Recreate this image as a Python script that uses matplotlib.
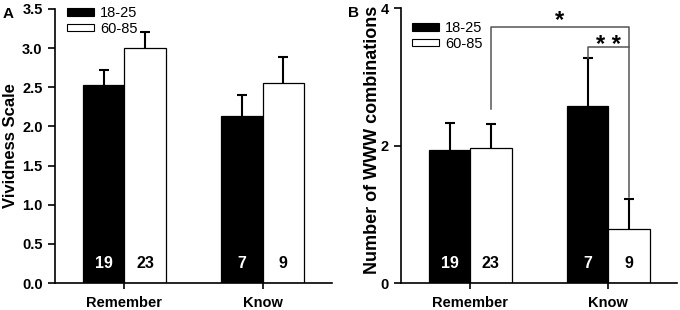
import numpy as np
import matplotlib.pyplot as plt
import matplotlib.transforms as mtransforms
from matplotlib.patches import Patch

plt.rcParams['font.family'] = ['Liberation Sans', 'DejaVu Sans']

# data
groups = ['Remember', 'Know']
ages = ['18-25', '60-85']
counts = [['19', '7'], ['23', '9']]

vivid_mean = [[2.53, 2.13], [3.00, 2.55]]
vivid_err = [[0.19, 0.27], [0.20, 0.34]]

www_mean = [[1.94, 2.58], [1.96, 0.79]]
www_err = [[0.39, 0.69], [0.36, 0.43]]

colors = ['black', 'white']
width = 0.3
x = np.arange(len(groups))

fig = plt.figure(figsize=(6.8, 3.1), dpi=100)
axA = fig.add_axes([0.081, 0.087, 0.407, 0.884])
axB = fig.add_axes([0.590, 0.087, 0.406, 0.887])


def draw_panel(ax, means, errs, ylim, yticks, ylabel, ylabsize, labx, laby):
    trans = mtransforms.blended_transform_factory(ax.transData, ax.transAxes)
    for i in range(2):
        xi = x + (i - 0.5) * width
        ax.bar(xi, means[i], width, color=colors[i], edgecolor='black',
               linewidth=0.9, label=ages[i], zorder=2)
        # symmetric bars, lower half hidden behind the bar
        ax.errorbar(xi, means[i], yerr=errs[i], fmt='none',
                    ecolor='black', elinewidth=1.5, capsize=3.5, capthick=1.5,
                    zorder=1)
        for j in range(2):
            ax.text(xi[j], 0.07, counts[i][j], transform=trans, ha='center',
                    va='center', fontsize=11.5, fontweight='bold',
                    color='white' if i == 0 else 'black', zorder=3)
    ax.set_xlim(-0.5, 1.5)
    ax.set_ylim(*ylim)
    ax.set_yticks(yticks)
    ax.set_xticks(x)
    ax.set_xticklabels(groups)
    for s in ['top', 'right']:
        ax.spines[s].set_visible(False)
    for s in ['left', 'bottom']:
        ax.spines[s].set_linewidth(1.2)
    ax.tick_params(axis='y', length=5, width=1.2, labelsize=10.5, pad=4)
    ax.tick_params(axis='x', length=4, width=1.2, labelsize=10.5, pad=5)
    ax.set_ylabel(ylabel, fontsize=ylabsize, fontweight='bold')
    ax.yaxis.label.set_va('center')
    ax.yaxis.set_label_coords(labx, laby)
    handles = [Patch(facecolor=c, edgecolor='black', linewidth=0.8) for c in colors]
    return handles


hA = draw_panel(axA, vivid_mean, vivid_err, (0, 3.5),
                [0, 0.5, 1.0, 1.5, 2.0, 2.5, 3.0, 3.5], 'Vividness Scale', 12,
                -0.162, 0.5)
axA.set_yticklabels(['%.1f' % v for v in axA.get_yticks()])

hB = draw_panel(axB, www_mean, www_err, (0, 4), [0, 2, 4],
                'Number of WWW combinations', 13.0, -0.105, 0.52)

for ax in (axA, axB):
    for lab in ax.get_xticklabels() + ax.get_yticklabels():
        lab.set_fontweight('bold')

leg_kw = dict(loc='upper left', frameon=False, handlelength=1.85,
              handleheight=0.45, fontsize=10.5, borderaxespad=0, borderpad=0,
              handletextpad=0.4, labelspacing=0.1)
axA.legend(hA, ages, bbox_to_anchor=(0.043, 1.01), **leg_kw)
axB.legend(hB, ages, bbox_to_anchor=(0.04, 0.952), **leg_kw)

# significance brackets (panel B)
xl = x[0] + 0.5 * width
xr = x[1] + 0.5 * width
xk = x[1] - 0.5 * width
top_rem = www_mean[1][0] + www_err[1][0]
top_know_old = www_mean[1][1] + www_err[1][1]
top_know_young = www_mean[0][1] + www_err[0][1]
y_big = 3.73
y_small = 3.43
lc = '#555555'
axB.plot([xl, xl, xr, xr], [top_rem + 0.21, y_big, y_big, top_know_old + 0.03],
         color=lc, lw=1.1, clip_on=False, zorder=4)
axB.plot([xk, xk, xr], [top_know_young + 0.01, y_small, y_small],
         color=lc, lw=1.1, clip_on=False, zorder=4)
axB.text((xl + xr) / 2, 3.73, '*', ha='center', va='baseline',
         fontsize=17, fontweight='bold', clip_on=False)
axB.text((xk + xr) / 2, 3.36, '* *', ha='center', va='baseline',
         fontsize=17, fontweight='bold', clip_on=False)

fig.text(0.004, 0.955, 'A', fontsize=11, fontweight='bold', va='center')
fig.text(0.512, 0.958, 'B', fontsize=11, fontweight='bold', va='center')

fig.savefig('out.png', dpi=100)
